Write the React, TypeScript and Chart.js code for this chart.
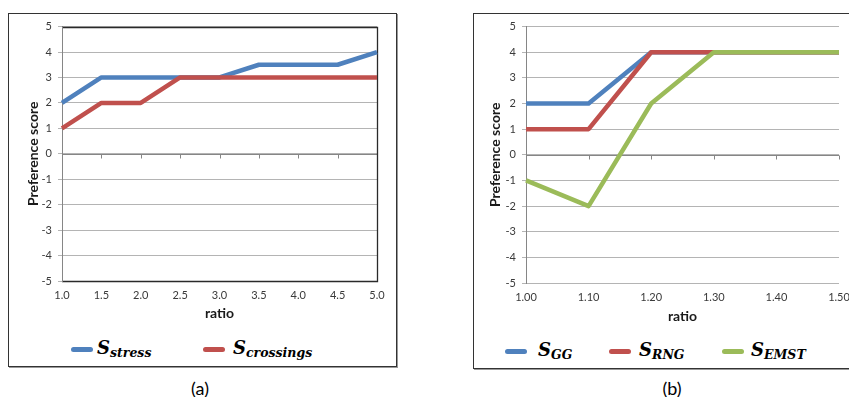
import React, { useEffect, useRef } from "react";
import { Chart, registerables } from "chart.js";

Chart.register(...registerables);

// ---------- data ----------
const ratiosA = ["1.0", "1.5", "2.0", "2.5", "3.0", "3.5", "4.0", "4.5", "5.0"];
const stressA = [2, 3, 3, 3, 3, 3.5, 3.5, 3.5, 4];
const crossingsA = [1, 2, 2, 3, 3, 3, 3, 3, 3];

const ratiosB = ["1.00", "1.10", "1.20", "1.30", "1.40", "1.50"];
const ggB = [2, 2, 4, 4, 4, 4];
const rngB = [1, 1, 4, 4, 4, 4];
const emstB = [-1, -2, 2, 4, 4, 4];

const subsA = ["stress", "crossings"];
const subsB = ["GG", "RNG", "EMST"];

const BLUE = "#4F81BD";
const RED = "#C0504D";
const GREEN = "#9BBB59";

const TICK_FONT = "Lato, 'Open Sans', sans-serif";

type Series = { label: string; data: number[]; color: string };

type ChartProps = {
  labels: string[];
  series: Series[];
  left: number;
  top: number;
  width: number;
  height: number;
  padLeft: number;
  padTop: number;
  padRight: number;
  yW: number;
  xH: number;
  plotBorder: boolean;
};

function LineChart(p: ChartProps) {
  const ref = useRef<HTMLCanvasElement | null>(null);
  useEffect(() => {
    if (!ref.current) return;
    const axisPlugin = {
      id: "excelAxis",
      beforeDatasetsDraw(chart: any) {
        const { ctx, chartArea: a, scales } = chart;
        const x = scales.x;
        const y = scales.y;
        const y0 = Math.round(y.getPixelForValue(0)) + 0.5;
        ctx.save();
        ctx.strokeStyle = "#868686";
        ctx.lineWidth = 1;
        ctx.beginPath();
        ctx.moveTo(a.left, y0);
        ctx.lineTo(a.right, y0);
        for (let i = 1; i < p.labels.length; i++) {
          const px = Math.round(x.getPixelForValue(i)) + 0.5;
          ctx.moveTo(px, y0);
          ctx.lineTo(px, y0 + 4);
        }
        ctx.stroke();
        if (p.plotBorder) {
          ctx.strokeStyle = "#2a2a2a";
          ctx.lineWidth = 1.3;
          ctx.beginPath();
          ctx.moveTo(a.left, Math.round(a.top) + 0.5);
          ctx.lineTo(Math.round(a.right) + 0.5, Math.round(a.top) + 0.5);
          ctx.lineTo(Math.round(a.right) + 0.5, Math.round(a.bottom) + 0.5);
          ctx.lineTo(a.left, Math.round(a.bottom) + 0.5);
          ctx.stroke();
          ctx.strokeStyle = "#868686";
          ctx.lineWidth = 1;
          ctx.beginPath();
          ctx.moveTo(Math.round(a.left) + 0.5, a.top);
          ctx.lineTo(Math.round(a.left) + 0.5, a.bottom + 1);
          ctx.stroke();
        }
        ctx.restore();
      },
    };
    const n = p.series.length;
    const chart = new Chart(ref.current, {
      type: "line",
      data: {
        labels: p.labels,
        datasets: p.series.map((s, i) => ({
          label: s.label,
          data: s.data,
          order: n - i,
          borderColor: s.color,
          backgroundColor: s.color,
          borderWidth: 4.5,
          pointRadius: 0,
          tension: 0,
          borderJoinStyle: "round" as const,
          borderCapStyle: "butt" as const,
        })),
      },
      options: {
        animation: false,
        responsive: false,
        maintainAspectRatio: false,
        events: [],
        layout: {
          padding: { left: p.padLeft, top: p.padTop, right: p.padRight, bottom: 0 },
        },
        plugins: {
          legend: { display: false },
          tooltip: { enabled: false },
        },
        scales: {
          x: {
            type: "category",
            offset: false,
            grid: { display: false, drawTicks: false },
            border: { display: false },
            ticks: {
              color: "#3a3a3a",
              font: { family: TICK_FONT, size: 11 },
              padding: 8,
              maxRotation: 0,
              autoSkip: false,
            },
            title: {
              display: true,
              text: "ratio",
              color: "#1a1a1a",
              font: { family: TICK_FONT, size: 14, weight: "bold" },
              padding: 0,
            },
            afterFit: (s: any) => {
              s.height = p.xH;
            },
          },
          y: {
            min: -5,
            max: 5,
            ticks: {
              stepSize: 1,
              color: "#3a3a3a",
              font: { family: TICK_FONT, size: 11 },
              padding: 6,
            },
            grid: { color: "#b4b4b4", lineWidth: 1, tickLength: 4, drawTicks: true },
            border: { display: true, color: "#868686", width: 1 },
            title: {
              display: true,
              text: "Preference score",
              color: "#1a1a1a",
              font: { family: TICK_FONT, size: 14, weight: "bold" },
              padding: 0,
            },
            afterFit: (s: any) => {
              s.width = p.yW;
            },
          },
        },
      },
      plugins: [axisPlugin],
    });
    return () => chart.destroy();
  }, []);
  return (
    <canvas
      ref={ref}
      width={p.width}
      height={p.height}
      style={{ position: "absolute", left: p.left, top: p.top, width: p.width, height: p.height }}
    />
  );
}

function LegendItem({ x, tx, y, color, sub }: { x: number; tx: number; y: number; color: string; sub: string }) {
  return (
    <>
      <div
        style={{
          position: "absolute",
          left: x,
          top: y - 2.5,
          width: 22,
          height: 5,
          borderRadius: 2.5,
          background: color,
        }}
      />
      <div
        style={{
          position: "absolute",
          left: tx,
          top: y - 10,
          whiteSpace: "nowrap",
          fontFamily: "'DejaVu Serif', serif",
          fontStyle: "italic",
          fontWeight: "bold",
          color: "#000",
          lineHeight: "18px",
        }}
      >
        <span style={{ fontSize: 18 }}>S</span>
        <span style={{ fontSize: 12.5, verticalAlign: -3 }}>{sub}</span>
      </div>
    </>
  );
}

const boxStyle = (left: number, top: number, width: number, height: number): React.CSSProperties => ({
  position: "absolute",
  left,
  top,
  width,
  height,
  border: "1px solid #333",
  boxShadow: "1px 1px 0 #999",
  boxSizing: "border-box",
  background: "#fff",
});

const captionStyle = (left: number): React.CSSProperties => ({
  position: "absolute",
  left,
  width: 40,
  top: 377,
  textAlign: "center",
  fontFamily: TICK_FONT,
  fontSize: 18,
  lineHeight: "22px",
  color: "#000",
});

export default function App() {
  return (
    <div
      style={{
        position: "absolute",
        left: 0,
        top: 0,
        width: 849,
        height: 397,
        overflow: "hidden",
        background: "#fff",
      }}
    >
      <div style={boxStyle(8, 13, 389, 354)} />
      <div style={boxStyle(473, 13, 420, 356)} />
      <LineChart
        labels={ratiosA}
        series={[
          { label: "S_stress", data: stressA, color: BLUE },
          { label: "S_crossings", data: crossingsA, color: RED },
        ]}
        left={9}
        top={14}
        width={386}
        height={308}
        padLeft={16}
        padTop={11}
        padRight={18}
        yW={37}
        xH={41}
        plotBorder={true}
      />
      <LineChart
        labels={ratiosB}
        series={[
          { label: "S_GG", data: ggB, color: BLUE },
          { label: "S_RNG", data: rngB, color: RED },
          { label: "S_EMST", data: emstB, color: GREEN },
        ]}
        left={474}
        top={14}
        width={390}
        height={311}
        padLeft={13}
        padTop={11}
        padRight={25}
        yW={39}
        xH={42}
        plotBorder={false}
      />
      <LegendItem x={71} tx={97} y={349} color={BLUE} sub={subsA[0]} />
      <LegendItem x={203} tx={233} y={349} color={RED} sub={subsA[1]} />
      <LegendItem x={505} tx={538} y={351} color={BLUE} sub={subsB[0]} />
      <LegendItem x={609} tx={639} y={351} color={RED} sub={subsB[1]} />
      <LegendItem x={722} tx={751} y={351} color={GREEN} sub={subsB[2]} />
      <div style={captionStyle(180)}>(a)</div>
      <div style={captionStyle(652)}>(b)</div>
    </div>
  );
}
